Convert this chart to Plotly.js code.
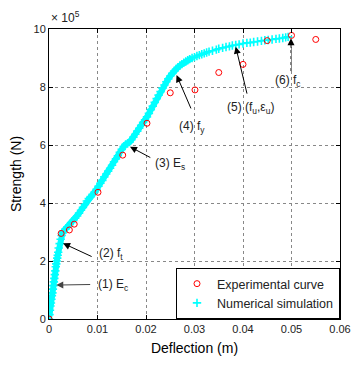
<!DOCTYPE html>
<html>
<head>
<meta charset="utf-8">
<script src="https://cdn.plot.ly/plotly-3.0.1.min.js"></script>
<style>html,body{margin:0;padding:0;background:#fff;}#chart{width:352px;height:367px;}</style>
</head>
<body>
<div id="chart"></div>
<script>
// Experimental curve: deflection (m), strength (x 1e5 N)
const expDeflection = [0, 0.0025, 0.0042, 0.0052, 0.0101, 0.0152, 0.0202, 0.025, 0.0301, 0.035, 0.040, 0.045, 0.050, 0.055];
const expStrength   = [0, 2.95, 3.07, 3.27, 4.37, 5.65, 6.75, 7.8, 7.9, 8.5, 8.78, 9.6, 9.78, 9.64];

// Numerical simulation: deflection (m), strength (x 1e5 N)
const simDeflection = [
  0, 0.0001, 0.0002, 0.0003, 0.0004, 0.0005, 0.0006, 0.0007, 0.0008, 0.0009,
  0.001, 0.0011, 0.0012, 0.0013, 0.0014, 0.0015, 0.0016, 0.0017, 0.0018, 0.0019,
  0.002, 0.0022, 0.0024, 0.0026, 0.0028, 0.003, 0.0034, 0.0038, 0.0042, 0.0046,
  0.005, 0.0054, 0.0058, 0.0062, 0.0066, 0.007, 0.0074, 0.0078, 0.0082, 0.0086,
  0.009, 0.0094, 0.0098, 0.0102, 0.0106, 0.011, 0.0114, 0.0118, 0.0122, 0.0126,
  0.013, 0.0134, 0.0138, 0.0142, 0.0146, 0.015, 0.0154, 0.0158, 0.0162, 0.0166,
  0.017, 0.0174, 0.0178, 0.0182, 0.0186, 0.019, 0.0194, 0.0198, 0.0202, 0.0206,
  0.021, 0.0214, 0.0218, 0.0222, 0.0226, 0.023, 0.0234, 0.0238, 0.0242, 0.0246,
  0.025, 0.0254, 0.0258, 0.0262, 0.0266, 0.027, 0.0274, 0.0278, 0.0282, 0.0286,
  0.029, 0.0295, 0.03, 0.0305, 0.031, 0.0315, 0.032, 0.0325, 0.033, 0.0337,
  0.0345, 0.035, 0.0358, 0.0365, 0.0372, 0.0378, 0.0385, 0.0392, 0.04, 0.0408,
  0.0415, 0.0422, 0.043, 0.0438, 0.0445, 0.0452, 0.046, 0.0468, 0.0475, 0.0482,
  0.0488, 0.0493
];
const simStrength = [
  0, 0.15, 0.3, 0.45, 0.55, 0.68, 0.8, 0.9, 1.03, 1.15,
  1.28, 1.4, 1.53, 1.66, 1.8, 1.9, 2.0, 2.1, 2.2, 2.3,
  2.45, 2.6, 2.75, 2.88, 2.97, 3.03, 3.1, 3.18, 3.25, 3.33,
  3.4, 3.48, 3.55, 3.65, 3.75, 3.85, 3.95, 4.07, 4.15, 4.22,
  4.3, 4.38, 4.47, 4.58, 4.68, 4.78, 4.9, 5.0, 5.1, 5.2,
  5.3, 5.42, 5.52, 5.63, 5.75, 5.85, 5.95, 6.02, 6.05, 6.1,
  6.18, 6.27, 6.37, 6.48, 6.58, 6.68, 6.78, 6.87, 6.97, 7.09,
  7.22, 7.34, 7.47, 7.6, 7.72, 7.84, 7.96, 8.07, 8.18, 8.28,
  8.38, 8.47, 8.55, 8.62, 8.68, 8.74, 8.79, 8.84, 8.88, 8.92,
  8.96, 9.0, 9.03, 9.07, 9.1, 9.13, 9.16, 9.19, 9.22, 9.25,
  9.29, 9.32, 9.35, 9.38, 9.4, 9.43, 9.45, 9.47, 9.5, 9.52,
  9.53, 9.55, 9.57, 9.59, 9.61, 9.62, 9.64, 9.66, 9.67, 9.69,
  9.71, 9.73
];
// number of leading simulation points where markers overlap into a solid band
const denseCount = 92;

const xTicks = [0, 0.01, 0.02, 0.03, 0.04, 0.05, 0.06];
const xTickText = ["0", "0.01", "0.02", "0.03", "0.04", "0.05", "0.06"];
const yTicks = [0, 2, 4, 6, 8, 10];
const yTickText = ["0", "2", "4", "6", "8", "10"];

const FONT = "Liberation Sans, Arial, sans-serif";
const TXT = "#222";
const CYAN = "#00ffff";

const traces = [
  {
    x: simDeflection.slice(0, denseCount), y: simStrength.slice(0, denseCount),
    type: "scatter", mode: "lines", showlegend: false, hoverinfo: "skip",
    line: {color: CYAN, width: 6}
  },
  {
    x: simDeflection, y: simStrength, type: "scatter", mode: "markers",
    name: "Numerical simulation",
    marker: {symbol: "cross-thin-open", size: 6, color: CYAN, line: {color: CYAN, width: 1.6}}
  },
  {
    x: expDeflection, y: expStrength, type: "scatter", mode: "markers",
    name: "Experimental curve",
    marker: {symbol: "circle-open", size: 6, color: "#ff0000", line: {color: "#ff0000", width: 1}}
  }
];

function arrow(x, y, ax, ay, color) {
  return {x: x, y: y, ax: ax, ay: ay, xref: "x", yref: "y", axref: "x", ayref: "y",
    text: "", showarrow: true, arrowhead: 2, arrowsize: 1.4, arrowwidth: 1, arrowcolor: color || "#000"};
}
function label(x, y, text) {
  return {x: x, y: y, xref: "x", yref: "y", text: text, showarrow: false,
    xanchor: "left", yanchor: "middle", font: {family: FONT, size: 12, color: TXT}};
}

const annotations = [
  arrow(0.0015, 1.17, 0.0088, 1.19, "#444"),
  label(0.0097, 1.17, "(1) E<sub>c</sub>"),
  arrow(0.0029, 2.61, 0.0091, 2.13),
  label(0.0098, 2.25, "(2) f<sub>t</sub>"),
  arrow(0.0167, 5.94, 0.0212, 5.54),
  label(0.0214, 5.35, "(3) E<sub>s</sub>"),
  arrow(0.0263, 8.41, 0.0294, 7.21),
  label(0.0264, 6.62, "(4) f<sub>y</sub>"),
  arrow(0.0385, 9.39, 0.0409, 7.72),
  label(0.0363, 7.27, "(5) (f<sub>u</sub>,ε<sub>u</sub>)"),
  arrow(0.0499, 9.68, 0.0499, 9.3),
  label(0.0462, 8.2, "(6) f<sub>c</sub>"),
  {xref: "paper", yref: "paper", x: 0, y: 1, xanchor: "left", yanchor: "bottom", yshift: 2,
   text: "× 10<sup>5</sup>", showarrow: false, font: {family: FONT, size: 12, color: TXT}}
];

const layout = {
  width: 352, height: 367,
  margin: {l: 49, r: 12, t: 29, b: 48},
  paper_bgcolor: "#fff", plot_bgcolor: "#fff",
  showlegend: true,
  legend: {x: 1, y: 0, xanchor: "right", yanchor: "bottom", traceorder: "reversed",
    bgcolor: "#fff", bordercolor: "#000", borderwidth: 1,
    font: {family: FONT, size: 12.5, color: TXT}, itemwidth: 30, tracegroupgap: 0},
  xaxis: {
    range: [0, 0.06], tickvals: xTicks, ticktext: xTickText,
    showline: true, linecolor: "#000", linewidth: 1, mirror: "ticks",
    ticks: "inside", ticklen: 4, tickcolor: "#000",
    showgrid: true, gridcolor: "#888", griddash: "dot", gridwidth: 1, zeroline: false,
    tickfont: {family: FONT, size: 11, color: TXT},
    title: {text: "Deflection (m)", font: {family: FONT, size: 14, color: "#000"}, standoff: 8}
  },
  yaxis: {
    range: [0, 10], tickvals: yTicks, ticktext: yTickText,
    showline: true, linecolor: "#000", linewidth: 1, mirror: "ticks",
    ticks: "inside", ticklen: 4, tickcolor: "#000",
    showgrid: true, gridcolor: "#888", griddash: "dot", gridwidth: 1, zeroline: false,
    tickfont: {family: FONT, size: 11, color: TXT},
    title: {text: "Strength (N)", font: {family: FONT, size: 14, color: "#000"}, standoff: 8}
  },
  annotations: annotations,
  shapes: [
    {type: "line", xref: "x", yref: "y", x0: 0.0499, y0: 8.55, x1: 0.0499, y1: 9.35,
     line: {color: "#000", width: 1, dash: "dot"}}
  ]
};

Plotly.newPlot("chart", traces, layout, {displayModeBar: false, staticPlot: true});
</script>
</body>
</html>
